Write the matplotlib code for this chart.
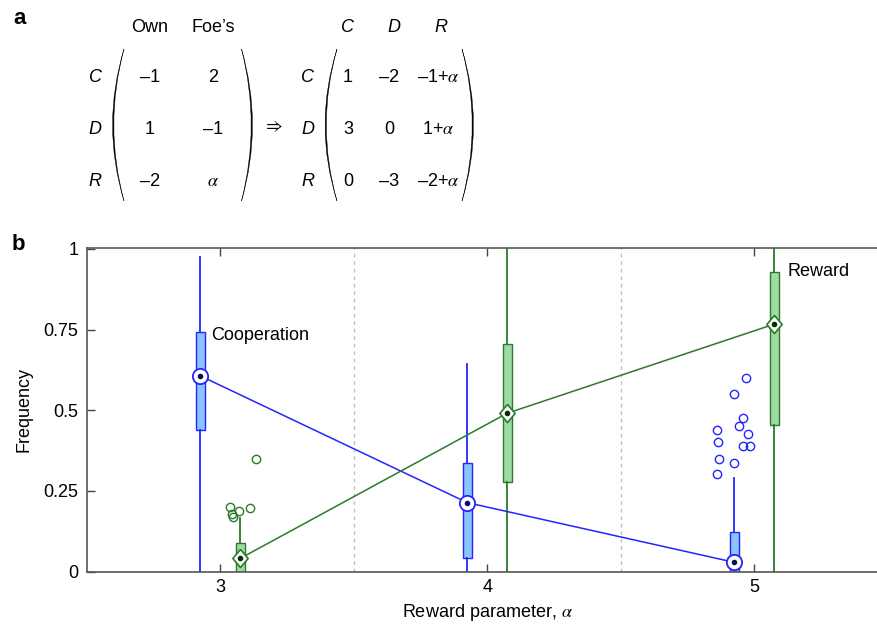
import matplotlib
matplotlib.use("Agg")
import matplotlib.pyplot as plt
from matplotlib.path import Path
from matplotlib.patches import PathPatch

plt.rcParams["font.family"] = ["Liberation Sans", "DejaVu Sans"]
plt.rcParams["mathtext.fontset"] = "stix"

# Reward parameter values and box statistics for each strategy
alphas = [3, 4, 5]

coop_med = [0.607, 0.214, 0.029]
coop_q1 = [0.440, 0.042, 0.0]
coop_q3 = [0.742, 0.338, 0.122]
coop_lo = [0.0, 0.0, 0.0]
coop_hi = [0.976, 0.644, 0.289]

rew_med = [0.041, 0.491, 0.767]
rew_q1 = [0.0, 0.279, 0.455]
rew_q3 = [0.088, 0.706, 0.930]
rew_lo = [0.0, 0.0, 0.0]
rew_hi = [0.165, 1.0, 1.0]

# Outlying runs (x includes the small horizontal spread)
coop_out_x = [4.969, 4.926, 4.957, 4.943, 4.976, 4.860, 4.866, 4.958, 4.983, 4.869, 4.926, 4.861]
coop_out_y = [0.601, 0.551, 0.475, 0.452, 0.427, 0.439, 0.403, 0.390, 0.390, 0.348, 0.336, 0.304]
rew_out_x = [3.038, 3.044, 3.048, 3.070, 3.113, 3.134]
rew_out_y = [0.200, 0.179, 0.170, 0.189, 0.196, 0.349]

yticks = [0, 0.25, 0.5, 0.75, 1]
ytick_labels = ["0", "0.25", "0.5", "0.75", "1"]

BLUE = "#2424ff"
BLUE_FILL = "#8cc4ff"
GREEN = "#2b7a2b"
GREEN_FILL = "#9ddba4"
OFFSET = 0.075

W, H = 877, 625
fig = plt.figure(figsize=(W / 100, H / 100), dpi=100)

# ---------------- panel a: payoff matrices (pixel coordinates) ----------------
ov = fig.add_axes([0, 0, 1, 1])
ov.set_xlim(0, W)
ov.set_ylim(H, 0)
ov.axis("off")

FS = 13


def paren(x_tip, x_out, y_top=49, y_bot=201, thick=1.3):
    """Filled crescent shaped bracket; x_out < x_tip gives '(' else ')'."""
    ym = (y_top + y_bot) / 2
    sign = 1 if x_out < x_tip else -1
    c_out = 2 * x_out - x_tip
    c_in = c_out + sign * thick * 2
    verts = [(x_tip, y_top), (c_out, ym), (x_tip, y_bot),
             (c_in, ym), (x_tip, y_top), (x_tip, y_top)]
    codes = [Path.MOVETO, Path.CURVE3, Path.CURVE3,
             Path.CURVE3, Path.CURVE3, Path.CLOSEPOLY]
    ov.add_patch(PathPatch(Path(verts, codes), facecolor="black",
                           edgecolor="black", lw=0.3))


ov.text(20, 19, "a", fontsize=16, fontweight="bold", ha="center", va="center")
ov.text(18.5, 245, "b", fontsize=16, fontweight="bold", ha="center", va="center")

rows_y = [77, 130, 181]
rows = ["C", "D", "R"]

# left matrix
ov.text(150, 28, "Own", fontsize=FS, ha="center", va="center")
ov.text(213, 28, "Foe\u2019s", fontsize=FS, ha="center", va="center")
left_vals = [["\u20131", "2"], ["1", "\u20131"], ["\u20132", r"$\alpha$"]]
for y, r, vals in zip(rows_y, rows, left_vals):
    ov.text(95, y, r, fontsize=FS, style="italic", ha="center", va="center")
    ov.text(150, y, vals[0], fontsize=FS, ha="center", va="center")
    ov.text(213, y, vals[1], fontsize=FS, ha="center", va="center")
paren(124, 112.5)
paren(241.5, 252.5)

ov.text(273, 127, r"$\Rightarrow$", fontsize=FS, ha="center", va="center")

# right matrix
for x, h in zip([348, 394, 441], rows):
    ov.text(x, 28, h, fontsize=FS, style="italic", ha="center", va="center")
right_vals = [["1", "\u20132", "\u20131+$\\alpha$"],
              ["3", "0", "1+$\\alpha$"],
              ["0", "\u20133", "\u20132+$\\alpha$"]]
for y, r, vals in zip(rows_y, rows, right_vals):
    ov.text(308, y, r, fontsize=FS, style="italic", ha="center", va="center")
    ov.text(348, y, vals[0], fontsize=FS, ha="center", va="center")
    ov.text(389, y, vals[1], fontsize=FS, ha="center", va="center")
    ov.text(438, y, vals[2], fontsize=FS, ha="center", va="center")
paren(337, 325)
paren(462, 473.5)

# ---------------- panel b: frequencies vs reward parameter ----------------
x0, x1 = 86.7, 86.7 + 3 * 267
ytop, ybot = 247.7, 572.3
ax = fig.add_axes([x0 / W, 1 - ybot / H, (x1 - x0) / W, (ybot - ytop) / H])
ax.set_xlim(2.5, 5.5)
ax.set_ylim(-0.002, 1.004)

for xv in [3.5, 4.5]:
    ax.axvline(xv, color="#bdbdbd", lw=0.9, ls=(0, (3, 3)), zorder=0)


def box_stats(med, q1, q3, lo, hi):
    return [dict(med=m, q1=a, q3=b, whislo=l, whishi=h, fliers=[])
            for m, a, b, l, h in zip(med, q1, q3, lo, hi)]


coop_pos = [a - OFFSET for a in alphas]
rew_pos = [a + OFFSET for a in alphas]

for stats, pos, col, fill in [
    (box_stats(coop_med, coop_q1, coop_q3, coop_lo, coop_hi), coop_pos, BLUE, BLUE_FILL),
    (box_stats(rew_med, rew_q1, rew_q3, rew_lo, rew_hi), rew_pos, GREEN, GREEN_FILL),
]:
    ax.bxp(stats, positions=pos, widths=0.033, patch_artist=True,
           showcaps=False, showfliers=False, manage_ticks=False,
           boxprops=dict(facecolor=fill, edgecolor=col, linewidth=1.0),
           whiskerprops=dict(color=col, linewidth=1.3),
           medianprops=dict(visible=False), zorder=2)

# outliers
ax.plot(coop_out_x, coop_out_y, "o", ms=6, mfc="none", mec=BLUE, mew=1.0, zorder=3)
ax.plot(rew_out_x, rew_out_y, "o", ms=6, mfc="none", mec=GREEN, mew=1.0, zorder=3)

# medians joined across reward values
ax.plot(coop_pos, coop_med, color=BLUE, lw=1.1, zorder=3)
ax.plot(rew_pos, rew_med, color=GREEN, lw=1.1, zorder=3)
ax.plot(coop_pos, coop_med, "o", ms=11, mfc="white", mec=BLUE, mew=1.3, zorder=4)
diamond = [(0, 1), (0.85, 0), (0, -1), (-0.85, 0), (0, 1)]
ax.plot(rew_pos, rew_med, ls="none", marker=diamond, ms=13, mfc="white",
        mec=GREEN, mew=1.2, zorder=4)
ax.plot(coop_pos, coop_med, "o", ms=3, color="#0a0a60", zorder=5)
ax.plot(rew_pos, rew_med, "o", ms=3, color="#0a2a0a", zorder=5)

ax.text(2.967, 0.733, "Cooperation", fontsize=13, ha="left", va="center")
ax.text(5.124, 0.93, "Reward", fontsize=13, ha="left", va="center")

ax.set_xticks(alphas)
ax.set_xticklabels([str(a) for a in alphas])
ax.set_yticks(yticks)
ax.set_yticklabels(ytick_labels)
ax.tick_params(direction="in", top=True, right=True, length=6, width=1.0,
               color="#444444", labelsize=13)
ax.tick_params(axis="y", pad=6)
ax.tick_params(axis="x", pad=5)
for s in ax.spines.values():
    s.set_color("#555555")
    s.set_linewidth(1.2)

ax.set_ylabel("Frequency", fontsize=13, labelpad=8)
ax.set_xlabel(r"Reward parameter, $\alpha$", fontsize=13, labelpad=4)

fig.savefig("out.png", dpi=100)
